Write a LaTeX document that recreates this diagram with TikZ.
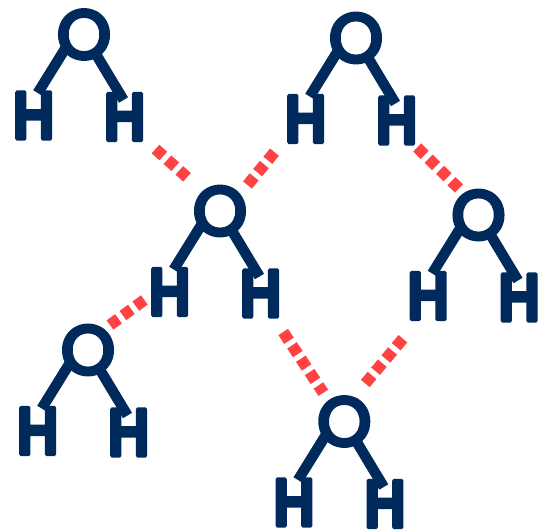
\documentclass[tikz,border=0pt]{standalone}
\usepackage{fontspec}
\setmainfont{Liberation Sans}
\newfontfamily\molH[FakeBold=5]{Liberation Sans Bold}
\newfontfamily\molO[FakeBold=6.5]{Poppins}
\definecolor{navy}{HTML}{002A5C}
\definecolor{hbred}{HTML}{FF4343}
\tikzset{
  hatom/.style={inner sep=0pt,outer sep=0pt,text=navy,font=\molH\fontsize{68}{68}\selectfont,xscale=.85,minimum width=40pt,minimum height=52pt,anchor=center},
  oatom/.style={inner sep=0pt,outer sep=0pt,text=navy,font=\molO\fontsize{68}{68}\selectfont,minimum width=52pt,minimum height=52pt,anchor=center},
  bond/.style={draw=navy,line width=10.5pt,line cap=butt},
  hbond/.style={draw=hbred,line width=11.5pt,line cap=butt,dash pattern=on 10.5pt off 5.5pt},
}
\newcommand{\hlabel}{\makebox[40pt]{H}}
\newcommand{\molec}[3]{%
  \node[oatom] (o#1) at (#2,#3) {O};
  \node[hatom] (h#1a) at (#2-50.3,#3+81) {\hlabel};
  \node[hatom] (h#1b) at (#2+40.7,#3+82.5) {\hlabel};
  \draw[bond] ([xshift=8pt,yshift=12pt]o#1.south west) -- ([xshift=4pt,yshift=-3.5pt]h#1a.north);
  \draw[bond] ([xshift=-17pt,yshift=10pt]o#1.south east) -- ([xshift=-1.2pt,yshift=-9pt]h#1b.north);
}
\begin{document}
\begin{tikzpicture}[x=1pt,y=-1pt,line join=round]
\useasboundingbox (0,0) rectangle (539,531);
\molec{1}{84}{34.5}
\molec{2}{356}{38}
\molec{3}{220}{211}
\molec{4}{478.5}{215}
\molec{5}{88}{350}
\molec{6}{344.3}{421.5}
\draw[hbond] ([xshift=30.8pt,yshift=-32pt]h1b.center) -- ([xshift=-33pt,yshift=33.7pt]o3.center);
\draw[hbond] ([xshift=27.5pt,yshift=26pt]o3.center) -- ([xshift=-30.7pt,yshift=-32.5pt]h2a.center);
\draw[hbond] ([xshift=20.5pt,yshift=-27pt]h2b.center) -- ([xshift=-18pt,yshift=25pt]o4.center);
\draw[hbond] ([xshift=22pt,yshift=25pt]o5.center) -- ([xshift=-22.7pt,yshift=-6pt]h3a.center);
\draw[hbond] ([xshift=22.5pt,yshift=-38.5pt]h3b.center) -- ([xshift=-21pt,yshift=28.7pt]o6.center);
\draw[hbond] ([xshift=21pt,yshift=38pt]o6.center) -- ([xshift=-23pt,yshift=-40pt]h4a.center);
\end{tikzpicture}
\end{document}
